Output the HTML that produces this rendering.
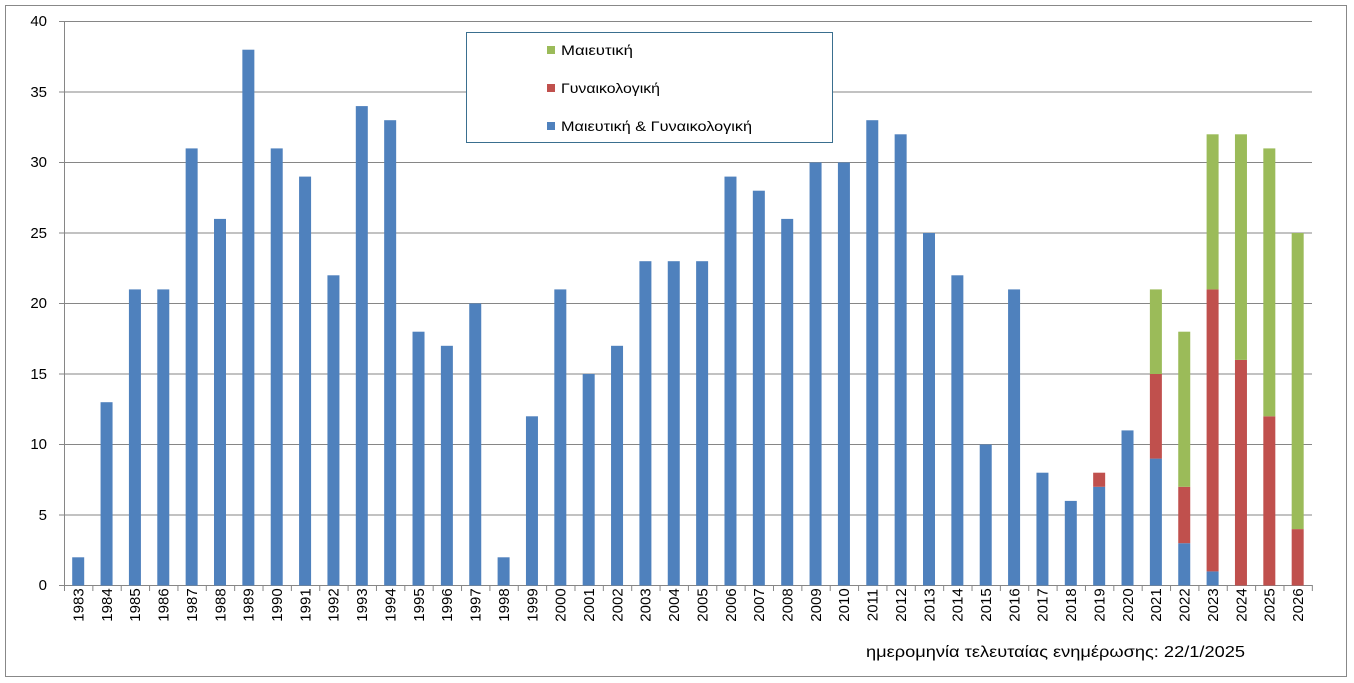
<!DOCTYPE html>
<html><head><meta charset="utf-8"><style>
body{margin:0;background:#fff}
svg{display:block;font-family:"Liberation Sans","DejaVu Sans",sans-serif;font-size:14px}
</style></head><body>
<svg id="s" width="1354" height="683" viewBox="0 0 1354 683">
<rect x="5.5" y="5.5" width="1341" height="671" fill="#fff" stroke="#888"/>
<g stroke="#868686" stroke-width="1">
<line x1="59" y1="21.5" x2="1312" y2="21.5"/>
<line x1="59" y1="92" x2="1312" y2="92"/>
<line x1="59" y1="162.5" x2="1312" y2="162.5"/>
<line x1="59" y1="233" x2="1312" y2="233"/>
<line x1="59" y1="303.5" x2="1312" y2="303.5"/>
<line x1="59" y1="374" x2="1312" y2="374"/>
<line x1="59" y1="444.5" x2="1312" y2="444.5"/>
<line x1="59" y1="515" x2="1312" y2="515"/>
<line x1="59" y1="585.5" x2="1312" y2="585.5"/>
<line x1="64.5" y1="21" x2="64.5" y2="586"/>
</g>
<g id="ticks" stroke="#868686"></g>
<g id="bars"></g>
<g text-anchor="end" fill="#000" font-size="15">
<text x="47" y="26">40</text><text x="47" y="97">35</text><text x="47" y="167">30</text>
<text x="47" y="238">25</text><text x="47" y="308">20</text><text x="47" y="379">15</text>
<text x="47" y="449">10</text><text x="47" y="520">5</text><text x="47" y="590">0</text>
</g>
<g text-anchor="middle" fill="#000" font-size="15">
<text transform="translate(83.5,605) rotate(-90)">1983</text>
<text transform="translate(111.9,605) rotate(-90)">1984</text>
<text transform="translate(140.2,605) rotate(-90)">1985</text>
<text transform="translate(168.6,605) rotate(-90)">1986</text>
<text transform="translate(196.9,605) rotate(-90)">1987</text>
<text transform="translate(225.3,605) rotate(-90)">1988</text>
<text transform="translate(253.7,605) rotate(-90)">1989</text>
<text transform="translate(282,605) rotate(-90)">1990</text>
<text transform="translate(310.4,605) rotate(-90)">1991</text>
<text transform="translate(338.7,605) rotate(-90)">1992</text>
<text transform="translate(367.1,605) rotate(-90)">1993</text>
<text transform="translate(395.5,605) rotate(-90)">1994</text>
<text transform="translate(423.8,605) rotate(-90)">1995</text>
<text transform="translate(452.2,605) rotate(-90)">1996</text>
<text transform="translate(480.5,605) rotate(-90)">1997</text>
<text transform="translate(508.9,605) rotate(-90)">1998</text>
<text transform="translate(537.3,605) rotate(-90)">1999</text>
<text transform="translate(565.6,605) rotate(-90)">2000</text>
<text transform="translate(594,605) rotate(-90)">2001</text>
<text transform="translate(622.3,605) rotate(-90)">2002</text>
<text transform="translate(650.7,605) rotate(-90)">2003</text>
<text transform="translate(679.1,605) rotate(-90)">2004</text>
<text transform="translate(707.4,605) rotate(-90)">2005</text>
<text transform="translate(735.8,605) rotate(-90)">2006</text>
<text transform="translate(764.1,605) rotate(-90)">2007</text>
<text transform="translate(792.5,605) rotate(-90)">2008</text>
<text transform="translate(820.9,605) rotate(-90)">2009</text>
<text transform="translate(849.2,605) rotate(-90)">2010</text>
<text transform="translate(877.6,605) rotate(-90)">2011</text>
<text transform="translate(905.9,605) rotate(-90)">2012</text>
<text transform="translate(934.3,605) rotate(-90)">2013</text>
<text transform="translate(962.7,605) rotate(-90)">2014</text>
<text transform="translate(991,605) rotate(-90)">2015</text>
<text transform="translate(1019.4,605) rotate(-90)">2016</text>
<text transform="translate(1047.7,605) rotate(-90)">2017</text>
<text transform="translate(1076.1,605) rotate(-90)">2018</text>
<text transform="translate(1104.5,605) rotate(-90)">2019</text>
<text transform="translate(1132.8,605) rotate(-90)">2020</text>
<text transform="translate(1161.2,605) rotate(-90)">2021</text>
<text transform="translate(1189.5,605) rotate(-90)">2022</text>
<text transform="translate(1217.9,605) rotate(-90)">2023</text>
<text transform="translate(1246.3,605) rotate(-90)">2024</text>
<text transform="translate(1274.6,605) rotate(-90)">2025</text>
<text transform="translate(1303,605) rotate(-90)">2026</text>
</g>
<text x="866" y="657" font-size="16" textLength="379" lengthAdjust="spacingAndGlyphs">ημερομηνία τελευταίας ενημέρωσης: 22/1/2025</text>
<rect x="466.5" y="32.5" width="366" height="110" fill="#fff" stroke="#3a6f8f"/>
<rect x="547" y="46" width="8" height="8" fill="#9BBB59"/>
<text x="561" y="55" textLength="72" lengthAdjust="spacingAndGlyphs">Μαιευτική</text>
<rect x="547" y="84" width="8" height="8" fill="#C0504D"/>
<text x="561" y="93" textLength="99" lengthAdjust="spacingAndGlyphs">Γυναικολογική</text>
<rect x="547" y="122" width="8" height="8" fill="#4F81BD"/>
<text x="561" y="131" textLength="191" lengthAdjust="spacingAndGlyphs">Μαιευτική &amp; Γυναικολογική</text>
</svg>
<script>
var B=[2,13,21,21,31,26,38,31,29,22,34,33,18,17,20,2,12,21,15,17,23,23,23,29,28,26,30,30,33,32,25,22,10,21,8,6,7,11,9,3,1,0,0,0];
var R={36:1,38:6,39:4,40:20,41:16,42:12,43:4};
var G={38:6,39:11,40:11,41:16,42:19,43:21};
var ns="http://www.w3.org/2000/svg",g=document.getElementById("bars"),t=document.getElementById("ticks");
var u=14.1,y0=585.5;
function r(x,y,h,c){if(h<=0)return;var e=document.createElementNS(ns,"rect");e.setAttribute("x",x);e.setAttribute("y",y-h);e.setAttribute("width",12);e.setAttribute("height",h);e.setAttribute("fill",c);g.appendChild(e);}
for(var i=0;i<44;i++){var c=78.2+28.36*i,x=c-6,y=y0;
r(x,y,B[i]*u,"#4F81BD");y-=B[i]*u;
var rv=R[i]||0;r(x,y,rv*u,"#C0504D");y-=rv*u;
var gv=G[i]||0;r(x,y,gv*u,"#9BBB59");}
for(var i=0;i<=44;i++){var xx=64.5+28.36*i;var l=document.createElementNS(ns,"line");l.setAttribute("x1",xx);l.setAttribute("x2",xx);l.setAttribute("y1",585);l.setAttribute("y2",591);t.appendChild(l);}
</script>
</body></html>
